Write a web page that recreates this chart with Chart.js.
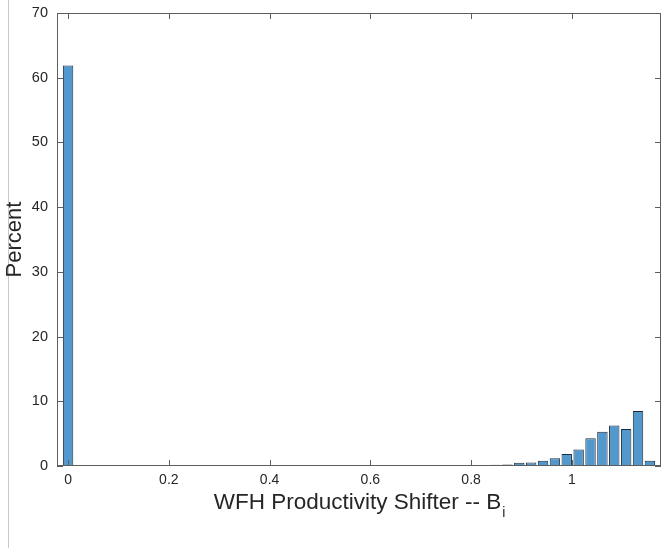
<!DOCTYPE html>
<html>
<head>
<meta charset="utf-8">
<script src="https://cdn.jsdelivr.net/npm/chart.js@4.4.1/dist/chart.umd.min.js"></script>
<style>
  html, body { margin: 0; padding: 0; background: #fff; }
  #wrap { position: relative; width: 664px; height: 548px; }
  #edge { position: absolute; left: 8px; top: 0; width: 1px; height: 548px; background: #c8c8c8; }
  canvas { position: absolute; left: 0; top: 0; }
</style>
</head>
<body>
<div id="wrap">
  <div id="edge"></div>
  <canvas id="c" width="664" height="548"></canvas>
</div>
<script>
// histogram bin centres (B_i)
const binCenters = [
  0, 0.0236, 0.0471, 0.0707, 0.0943, 0.1179, 0.1414, 0.1650, 0.1886, 0.2121,
  0.2357, 0.2593, 0.2828, 0.3064, 0.3300, 0.3536, 0.3771, 0.4007, 0.4243, 0.4478,
  0.4714, 0.4950, 0.5185, 0.5421, 0.5657, 0.5893, 0.6128, 0.6364, 0.6600, 0.6835,
  0.7071, 0.7307, 0.7542, 0.7778, 0.8014, 0.8250, 0.8485, 0.8721, 0.8957, 0.9192,
  0.9428, 0.9664, 0.9899, 1.0135, 1.0371, 1.0607, 1.0842, 1.1078, 1.1314, 1.1550
];
// percent in each bin
const percents = [
  61.9, 0, 0, 0, 0, 0, 0, 0, 0, 0,
  0, 0, 0, 0, 0, 0, 0, 0, 0, 0,
  0, 0, 0, 0, 0, 0, 0, 0, 0.05, 0,
  0, 0.06, 0.07, 0.09, 0.1, 0.13, 0.2, 0.22, 0.5, 0.55,
  0.8, 1.2, 1.85, 2.55, 4.3, 5.3, 6.25, 5.7, 8.5, 0.8
];
const xTicks = [0, 0.2, 0.4, 0.6, 0.8, 1];
const xTickLabels = ["0", "0.2", "0.4", "0.6", "0.8", "1"];
const yTicks = [0, 10, 20, 30, 40, 50, 60, 70];

const FONT = "'Liberation Sans', Arial, Helvetica, sans-serif";
const TXT = "#262626";

// MATLAB-style box with inward ticks on all four sides, plus subscripted x label
const boxPlugin = {
  id: "box",
  afterDatasetsDraw(chart) {
    const { ctx, chartArea: a, scales } = chart;
    ctx.save();
    ctx.strokeStyle = "#5e5e5e";
    ctx.lineWidth = 1;
    ctx.strokeRect(a.left + 0.5, a.top + 0.5, a.right - a.left - 1, a.bottom - a.top - 1);
    ctx.beginPath();
    const L = 6;
    xTicks.forEach(v => {
      const px = Math.round(scales.x.getPixelForValue(v)) + 0.5;
      ctx.moveTo(px, a.bottom); ctx.lineTo(px, a.bottom - L);
      ctx.moveTo(px, a.top); ctx.lineTo(px, a.top + L);
    });
    yTicks.forEach(v => {
      const py = Math.round(scales.y.getPixelForValue(v)) + 0.5;
      ctx.moveTo(a.left, py); ctx.lineTo(a.left + L, py);
      ctx.moveTo(a.right, py); ctx.lineTo(a.right - L, py);
    });
    ctx.stroke();

    // x axis label with subscript i
    const main = "WFH Productivity Shifter -- B";
    ctx.fillStyle = TXT;
    ctx.font = "22.5px " + FONT;
    const w = ctx.measureText(main).width;
    ctx.font = "14px " + FONT;
    const ws = ctx.measureText("i").width;
    const cx = (a.left + a.right) / 2;
    const x0 = cx - (w + ws) / 2;
    ctx.textBaseline = "alphabetic";
    ctx.textAlign = "left";
    ctx.font = "22.5px " + FONT;
    ctx.fillText(main, x0, 509);
    ctx.font = "14px " + FONT;
    ctx.fillText("i", x0 + w + 1, 517);
    ctx.restore();
  }
};

new Chart(document.getElementById("c"), {
  type: "bar",
  data: {
    datasets: [{
      data: binCenters.map((x, i) => ({ x, y: percents[i] })),
      backgroundColor: "#5298cc",
      borderColor: "#1d2d3d",
      borderWidth: 1,
      borderSkipped: "bottom",
      barPercentage: 0.88,
      categoryPercentage: 1
    }]
  },
  options: {
    responsive: false,
    animation: false,
    devicePixelRatio: 1,
    layout: { padding: { left: 0, top: 13, right: 3, bottom: 0 } },
    plugins: { legend: { display: false }, tooltip: { enabled: false } },
    scales: {
      x: {
        type: "linear",
        min: -0.022,
        max: 1.177,
        offset: false,
        grid: { display: false, drawTicks: false },
        border: { display: false },
        afterBuildTicks: s => { s.ticks = xTicks.map(v => ({ value: v })); },
        afterFit: s => { s.height = 82; s.paddingLeft = 0; s.paddingRight = 0; },
        ticks: {
          padding: 6,
          color: TXT,
          font: { family: FONT, size: 14 },
          maxRotation: 0,
          callback: (v) => xTickLabels[xTicks.indexOf(v)]
        }
      },
      y: {
        min: 0,
        max: 70,
        grid: { display: false, drawTicks: false },
        border: { display: false },
        afterBuildTicks: s => { s.ticks = yTicks.map(v => ({ value: v })); },
        afterFit: s => { s.width = 57; s.paddingTop = 0; s.paddingBottom = 0; },
        title: {
          display: true,
          text: "Percent",
          color: TXT,
          font: { family: FONT, size: 22 },
          padding: { top: 2, bottom: 0 }
        },
        ticks: {
          padding: 9,
          color: TXT,
          font: { family: FONT, size: 14.5 }
        }
      }
    }
  },
  plugins: [boxPlugin]
});
</script>
</body>
</html>
